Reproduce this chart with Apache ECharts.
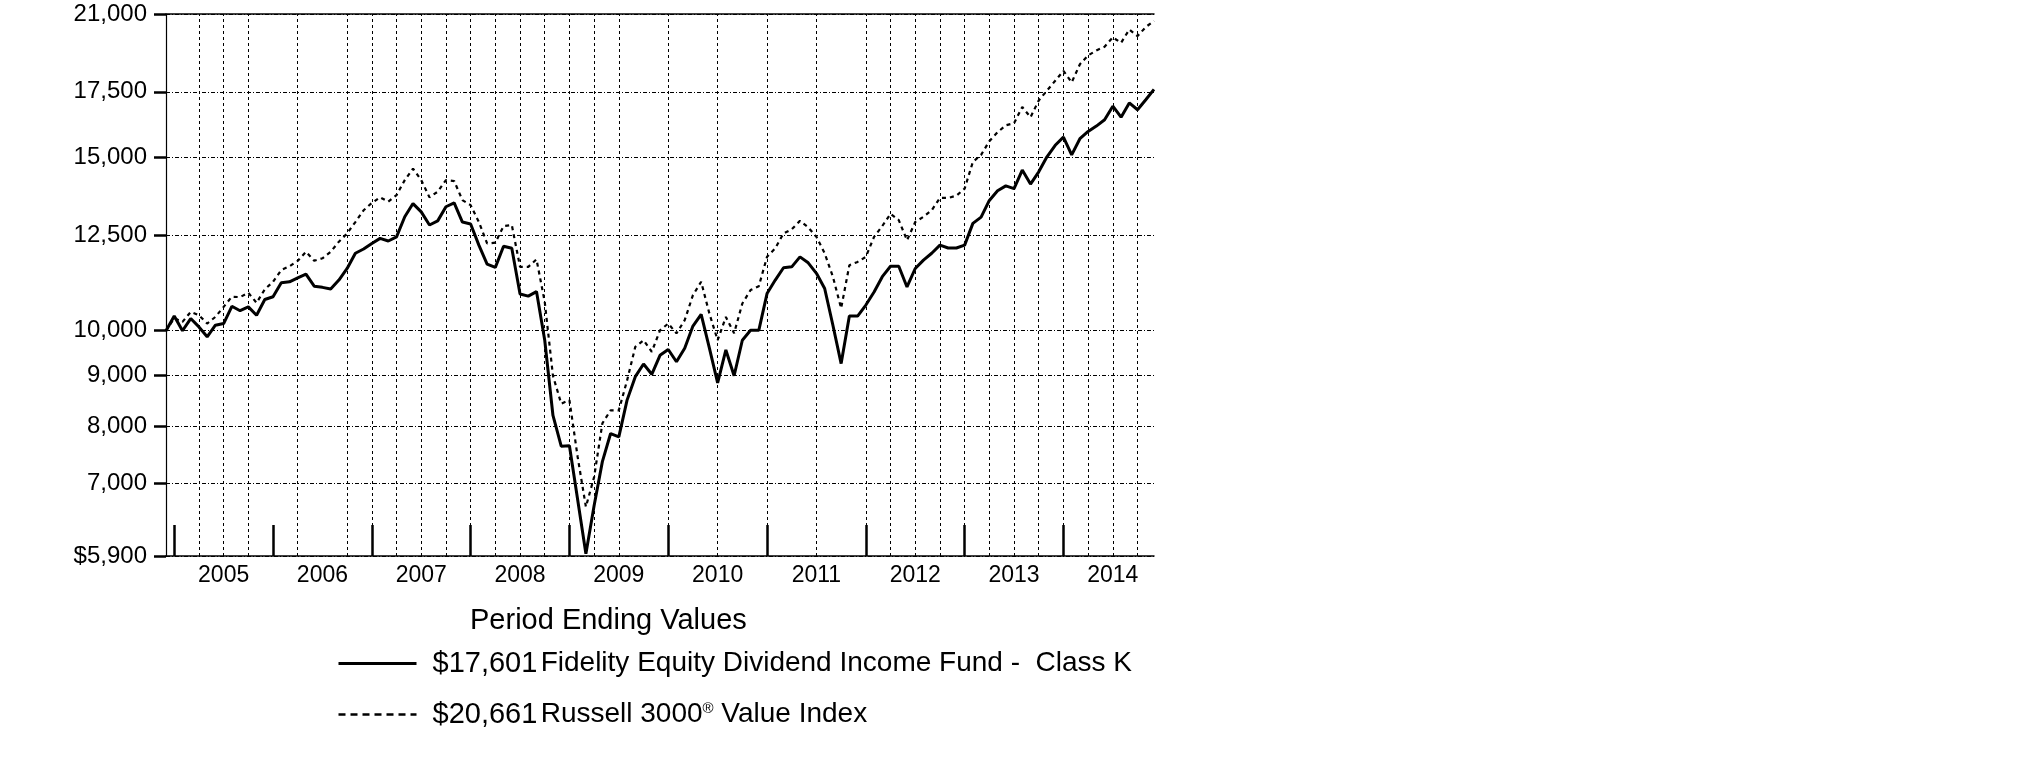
<!DOCTYPE html>
<html>
<head>
<meta charset="utf-8">
<script src="https://cdn.jsdelivr.net/npm/echarts@6/dist/echarts.min.js"></script>
<style>
html,body{margin:0;padding:0;background:#fff;}
#chart{width:2025px;height:761px;}
</style>
</head>
<body>
<div id="chart"></div>
<script>
// Monthly values, Nov 2004 .. Nov 2014 (121 points)
const fundValues = [
10000,10350,10000,10290,10090,9860,10130,10170,10590,10480,10575,10370,
10760,10830,11190,11215,11320,11420,11100,11070,11025,11260,11570,11990,
12110,12270,12415,12340,12460,13060,13470,13210,12810,12935,13370,13490,
12900,12840,12220,11690,11600,12190,12130,10900,10845,10960,9780,8200,
7630,7640,6730,5930,6640,7360,7860,7800,8500,8980,9250,9030,
9440,9570,9300,9600,10110,10390,9600,8850,9560,9000,9780,10010,
10010,10910,11260,11590,11615,11890,11725,11440,11040,10130,9260,10350,
10350,10620,10950,11350,11630,11630,11080,11570,11800,11990,12220,12140,
12140,12220,12860,13050,13570,13880,14040,13950,14570,14100,14510,15030,
15440,15740,15100,15680,15950,16150,16390,16920,16490,17050,16780,17180,
17601
];
const indexValues = [
10000,10300,10210,10450,10370,10170,10330,10575,10830,10820,10930,10675,
11020,11215,11530,11630,11780,12030,11780,11850,12030,12320,12560,12900,
13260,13490,13670,13530,13740,14230,14620,14230,13670,13850,14230,14200,
13580,13420,12900,12270,12290,12780,12810,11615,11615,11820,10700,9000,
8430,8500,7440,6620,7100,8050,8300,8300,8900,9630,9780,9520,
10010,10170,9940,10250,10870,11215,10410,9780,10330,9940,10660,11000,
11100,11890,12130,12560,12680,12935,12740,12460,11990,11350,10540,11660,
11750,11890,12460,12780,13150,12960,12360,12900,13060,13260,13650,13650,
13720,13950,14850,15100,15590,15920,16180,16260,16890,16490,17150,17550,
17960,18380,17890,18670,19060,19280,19450,19880,19630,20250,19940,20370,
20661
];
const yearLabels = ['2005','2006','2007','2008','2009','2010','2011','2012','2013','2014'];
const yTickValues = [5900,7000,8000,9000,10000,12500,15000,17500,21000];
// month indices carrying a vertical grid line / a year tick / a year label
const gridMonths = [4,7,10,16,22,25,28,31,34,37,40,43,46,49,52,55,61,67,73,79,85,88,91,94,97,100,103,106,109,112,115,118];
const yearTickMonths = [1,13,25,37,49,61,73,85,97,109];
const yearLabelMonths = [7,19,31,43,55,67,79,91,103,115];
const fundName = 'Fidelity Equity Dividend Income Fund -  Class K';
const indexName = 'Russell 3000® Value Index';
const fundEnd = '$17,601';
const indexEnd = '$20,661';

// month categories
const categories = [];
for (let i = 0; i < fundValues.length; i++) {
  const m = (10 + i) % 12;
  const y = 2004 + Math.floor((10 + i) / 12);
  categories.push(y + '-' + String(m + 1).padStart(2, '0'));
}
const labelFor = {};
yearLabelMonths.forEach((m, k) => { labelFor[m] = yearLabels[k]; });

const FONT = '"Liberation Sans", Arial, Helvetica, sans-serif';
const chart = echarts.init(document.getElementById('chart'), null, {renderer: 'canvas'});
const fmt = v => (v === 5900 ? '$5,900' : v.toLocaleString('en-US'));

chart.setOption({
  animation: false,
  backgroundColor: '#ffffff',
  textStyle: {fontFamily: FONT, color: '#000'},
  title: {
    text: 'Period Ending Values',
    left: 465, top: 601,
    textStyle: {fontFamily: FONT, fontSize: 29, fontWeight: 'normal', color: '#000'}
  },
  legend: {
    orient: 'vertical',
    left: 332, top: 644,
    itemWidth: 78, itemHeight: 14, itemGap: 22,
    data: [
      {name: fundName, lineStyle: {width: 3}},
      {name: indexName, lineStyle: {type: [7, 5], width: 2.5}}
    ],
    itemStyle: {opacity: 0},
    formatter: function (name) {
      if (name === fundName) return '{a|' + fundEnd + '} {b|' + fundName + '}';
      return '{a|' + indexEnd + '} {b|Russell 3000}{r|®}{b| Value Index}';
    },
    textStyle: {
      fontFamily: FONT, color: '#000', padding: [0, 0, 0, 11],
      rich: {
        a: {fontFamily: FONT, fontSize: 29, color: '#000', height: 34},
        b: {fontFamily: FONT, fontSize: 28, color: '#000', height: 34},
        r: {fontFamily: FONT, fontSize: 15, color: '#000', padding: [0, 0, 12, 0]}
      }
    }
  },
  grid: {left: 166, right: 871, top: 14, bottom: 205, containLabel: false},
  xAxis: [{
    type: 'category',
    data: categories,
    boundaryGap: false,
    axisLine: {show: true, lineStyle: {color: '#000', width: 1.5}},
    axisTick: {
      show: true, inside: true, length: 31,
      interval: (idx) => yearTickMonths.indexOf(idx) >= 0,
      lineStyle: {color: '#000', width: 2.5}
    },
    axisLabel: {
      show: true, margin: 8,
      interval: (idx) => labelFor[idx] !== undefined,
      formatter: (val, idx) => labelFor[idx] || '',
      fontFamily: FONT, fontSize: 23, color: '#000'
    },
    splitLine: {show: false}
  }, {
    type: 'category',
    data: categories,
    boundaryGap: false,
    position: 'top',
    axisLine: {show: true, lineStyle: {color: '#000', width: 1.5}},
    axisTick: {show: false},
    axisLabel: {show: false},
    splitLine: {show: false}
  }],
  yAxis: {
    type: 'log',
    logBase: 10,
    min: 5900,
    max: 21000,
    axisLine: {show: true, lineStyle: {color: '#000', width: 1.2}},
    axisTick: {show: true, length: 12, customValues: yTickValues, lineStyle: {color: '#000', width: 2.5}},
    axisLabel: {
      show: true, margin: 19,
      customValues: yTickValues,
      formatter: fmt,
      fontFamily: FONT, fontSize: 24, color: '#000'
    },
    splitLine: {show: true, lineStyle: {color: '#000', width: 1, type: [4, 2, 1, 2]}},
    minorSplitLine: {show: false}
  },
  series: [{
    name: 'grid',
    type: 'line',
    data: [],
    symbol: 'none',
    z: 1,
    silent: true,
    markLine: {
      silent: true,
      symbol: ['none', 'none'],
      label: {show: false},
      animation: false,
      lineStyle: {color: '#000', width: 1, type: [3, 3]},
      emphasis: {disabled: true},
      data: gridMonths.map(m => ({xAxis: categories[m]}))
    }
  }, {
    name: fundName,
    type: 'line',
    data: fundValues,
    symbol: 'none',
    lineStyle: {color: '#000', width: 3, type: 'solid'},
    itemStyle: {color: '#000'},
    z: 3
  }, {
    name: indexName,
    type: 'line',
    data: indexValues,
    symbol: 'none',
    lineStyle: {color: '#000', width: 2.2, type: [4, 4]},
    itemStyle: {color: '#000'},
    z: 2
  }]
});
</script>
</body>
</html>
